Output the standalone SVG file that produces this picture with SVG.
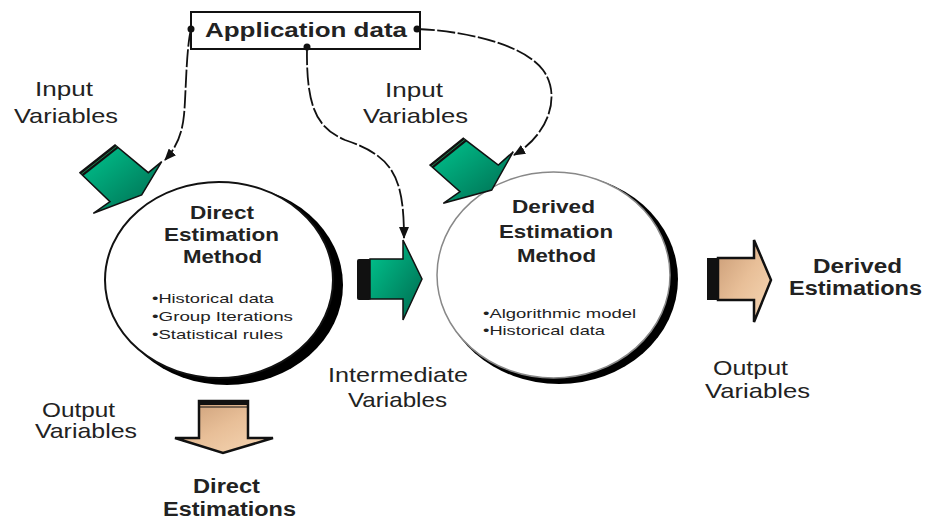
<svg xmlns="http://www.w3.org/2000/svg" width="927" height="519" viewBox="0 0 927 519">
<defs>
  <linearGradient id="green" x1="0" y1="0" x2="1" y2="1">
    <stop offset="0" stop-color="#00c890"/>
    <stop offset="1" stop-color="#00684e"/>
  </linearGradient>
  <linearGradient id="copper" x1="0" y1="0" x2="1" y2="1">
    <stop offset="0" stop-color="#c89a74"/>
    <stop offset="0.5" stop-color="#e8bf98"/>
    <stop offset="1" stop-color="#f7d8b6"/>
  </linearGradient>
  <marker id="arr" markerWidth="12" markerHeight="10" refX="11" refY="5" orient="auto" markerUnits="userSpaceOnUse">
    <path d="M0,0 L12,5 L0,10 z" fill="#111"/>
  </marker>
</defs>
<style>
  text { font-family: "Liberation Sans", Arial, sans-serif; fill: #222; }
  .lbl { font-size: 21px; text-anchor: middle; }
  .bold { font-size: 20px; font-weight: bold; text-anchor: middle; }
  .title { font-size: 19px; font-weight: bold; text-anchor: middle; }
  .bul { font-size: 13px; }
  .conn { fill: none; stroke: #111; stroke-width: 1.8; stroke-dasharray: 18 2.5; }
  .dot { fill: #111; }
  .garrow { fill: url(#green); stroke: #111; stroke-width: 1.5; stroke-linejoin: miter; }
  .carrow { fill: url(#copper); stroke: #111; stroke-width: 2.5; stroke-linejoin: miter; }
</style>
<rect width="927" height="519" fill="#fff"/>

<g id="application-data">
  <rect x="191" y="12" width="229" height="37" fill="#fff" stroke="#111" stroke-width="2"/>
  <text x="306" y="37" style="font-size:21px;font-weight:bold;text-anchor:middle" textLength="202" lengthAdjust="spacingAndGlyphs">Application data</text>
</g>

<g id="direct-method">
  <ellipse cx="227" cy="285" rx="116" ry="100" fill="#000"/>
  <ellipse cx="219" cy="280" rx="114" ry="98" fill="#fff" stroke="#111" stroke-width="2"/>
  <text class="title" x="222" y="219" textLength="64" lengthAdjust="spacingAndGlyphs">Direct</text>
  <text class="title" x="221.5" y="241" textLength="115" lengthAdjust="spacingAndGlyphs">Estimation</text>
  <text class="title" x="222.5" y="263" textLength="79" lengthAdjust="spacingAndGlyphs">Method</text>
  <text class="bul" x="152" y="303" textLength="122" lengthAdjust="spacingAndGlyphs">•Historical data</text>
  <text class="bul" x="152" y="321" textLength="141" lengthAdjust="spacingAndGlyphs">•Group Iterations</text>
  <text class="bul" x="152" y="339" textLength="131" lengthAdjust="spacingAndGlyphs">•Statistical rules</text>
</g>

<g id="derived-method">
  <ellipse cx="559" cy="279" rx="119" ry="105" fill="#000"/>
  <ellipse cx="553.5" cy="275" rx="116.5" ry="103" fill="#fff" stroke="#888" stroke-width="1.5"/>
  <text class="title" x="553.5" y="213" textLength="83" lengthAdjust="spacingAndGlyphs">Derived</text>
  <text class="title" x="556" y="238" textLength="114" lengthAdjust="spacingAndGlyphs">Estimation</text>
  <text class="title" x="556.5" y="262" textLength="79" lengthAdjust="spacingAndGlyphs">Method</text>
  <text class="bul" x="483" y="318" textLength="153" lengthAdjust="spacingAndGlyphs">•Algorithmic model</text>
  <text class="bul" x="483" y="335" textLength="122" lengthAdjust="spacingAndGlyphs">•Historical data</text>
</g>

<g id="input-arrow-left">
  <polygon class="garrow" points="80,172.7 115,145 148.3,172.7 161.7,161.7 141.7,195 93.3,213.3 110,201.7"/>
  <polygon points="80,172.7 115,145 118.5,148 83.5,175.7" fill="#111"/>
  <line x1="81.5" y1="174" x2="116.5" y2="146.5" stroke="#2a6" stroke-width="0.7"/>
</g>

<g id="input-arrow-right">
  <polygon class="garrow" points="430,165 463.3,138.3 498.3,165 513.3,151.7 491.7,190 443.3,203.3 460,191.7"/>
  <polygon points="430,165 463.3,138.3 466.8,141.3 433.5,168" fill="#111"/>
  <line x1="431.5" y1="166.3" x2="464.8" y2="139.6" stroke="#2a6" stroke-width="0.7"/>
</g>

<g id="intermediate-arrow">
  <rect x="357" y="259" width="14" height="41" rx="2" fill="#111"/>
  <polygon class="garrow" points="370,259 403,259 403,240 422,279 403,320 403,299 370,299"/>
</g>

<g id="derived-output-arrow">
  <rect x="707" y="258" width="12" height="42" fill="#111"/>
  <polygon class="carrow" points="718,258 754,258 754,240 771,280 754,322 754,300 718,300"/>
</g>

<g id="direct-output-arrow">
  <polygon class="carrow" points="199,401 248,401 248,438 273,438 223,453 175,438 199,438"/>
  <rect x="199" y="401" width="49" height="4" fill="#111"/>
  <line x1="199" y1="407" x2="248" y2="407" stroke="#111" stroke-width="1"/>
</g>

<g id="connectors">
  <path class="conn" d="M191,29 C186,50 186,95 184,115 C182,135 176,148 165,160" marker-end="url(#arr)"/>
  <path class="conn" d="M307,47 C306,110 318,128 345,140 C392,156 404,175 404,238" marker-end="url(#arr)"/>
  <path class="conn" d="M417,29 C450,30 520,40 543,70 C562,96 548,135 514,155" marker-end="url(#arr)"/>
  <circle class="dot" cx="191" cy="29" r="3.5"/>
  <circle class="dot" cx="307" cy="47" r="3.5"/>
  <circle class="dot" cx="417" cy="29" r="3.5"/>
</g>

<g id="labels">
  <text class="lbl" x="64" y="96" textLength="58" lengthAdjust="spacingAndGlyphs">Input</text>
  <text class="lbl" x="66" y="123" textLength="104" lengthAdjust="spacingAndGlyphs">Variables</text>
  <text class="lbl" x="414" y="97" textLength="58" lengthAdjust="spacingAndGlyphs">Input</text>
  <text class="lbl" x="415.5" y="123" textLength="105" lengthAdjust="spacingAndGlyphs">Variables</text>
  <text class="lbl" x="398" y="382" textLength="140" lengthAdjust="spacingAndGlyphs">Intermediate</text>
  <text class="lbl" x="397.5" y="407" textLength="99" lengthAdjust="spacingAndGlyphs">Variables</text>
  <text class="lbl" x="78.5" y="417" textLength="73" lengthAdjust="spacingAndGlyphs">Output</text>
  <text class="lbl" x="86" y="438" textLength="102" lengthAdjust="spacingAndGlyphs">Variables</text>
  <text class="lbl" x="750.5" y="375" textLength="75" lengthAdjust="spacingAndGlyphs">Output</text>
  <text class="lbl" x="757.5" y="398" textLength="105" lengthAdjust="spacingAndGlyphs">Variables</text>
  <text class="bold" x="857.5" y="273" textLength="89" lengthAdjust="spacingAndGlyphs">Derived</text>
  <text class="bold" x="855.5" y="295" textLength="133" lengthAdjust="spacingAndGlyphs">Estimations</text>
  <text class="bold" x="226.5" y="493" textLength="67" lengthAdjust="spacingAndGlyphs">Direct</text>
  <text class="bold" x="229.5" y="516" textLength="133" lengthAdjust="spacingAndGlyphs">Estimations</text>
</g>
</svg>
